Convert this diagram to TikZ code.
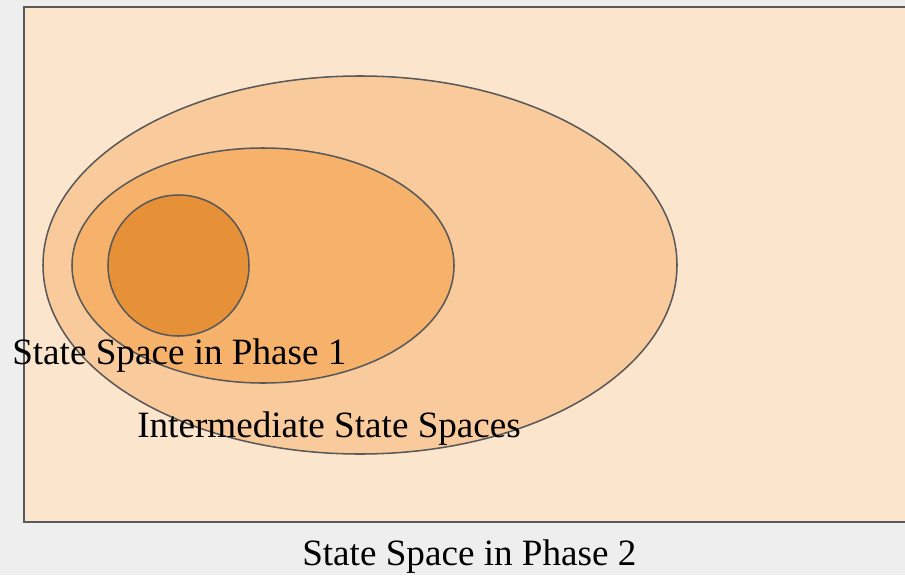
\documentclass[tikz,border=0pt]{standalone}
\usepackage{fontspec}
\setmainfont{Liberation Serif}
\usetikzlibrary{positioning}
\definecolor{ssback}{HTML}{EEEEEE}
\definecolor{ssphasetwo}{HTML}{FCE5CD}
\definecolor{ssinter}{HTML}{F9CB9C}
\definecolor{ssinner}{HTML}{F6B26B}
\definecolor{ssphaseone}{HTML}{E69138}
\definecolor{ssedge}{HTML}{595959}
\tikzset{
 ss region/.style={draw=ssedge,line width=1.15pt},
 ss label/.style={font=\fontsize{27.85}{32}\selectfont,inner sep=0pt,anchor=base west}
}
\begin{document}
\begin{tikzpicture}[x=0.75pt,y=-0.75pt]
 \fill[ssback] (0,0) rectangle (905,575);
 \useasboundingbox (0,0) rectangle (905,575);
 \draw[ss region,fill=ssphasetwo,line width=1.6pt] (24,7) rectangle (915,522);
 \draw[ss region,fill=ssinter] (360,265) ellipse [x radius=317,y radius=189];
 \draw[ss region,fill=ssinner] (263,265.5) ellipse [x radius=191,y radius=117.5];
 \draw[ss region,fill=ssphaseone] (178.5,265.5) circle [radius=70.5];
 \node[ss label] (one) at (12,364) {State Space in Phase 1};
 \node[ss label] (mid) at (137,437) {Intermediate State Spaces};
 \node[ss label] (two) at (302,565) {State Space in Phase 2};
\end{tikzpicture}
\end{document}
